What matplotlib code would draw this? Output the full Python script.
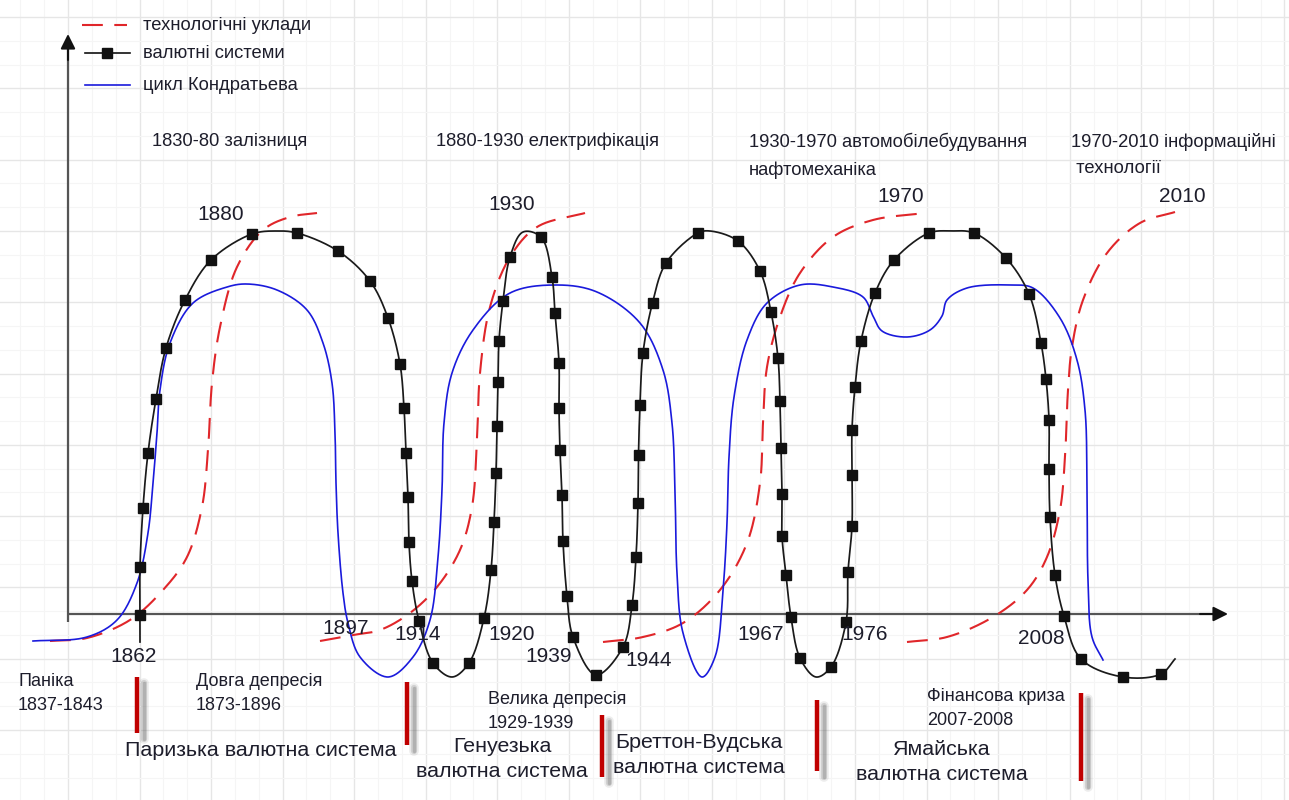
import numpy as np
import matplotlib
matplotlib.use("Agg")
import matplotlib.pyplot as plt

plt.rcParams['font.family'] = ['Liberation Sans', 'DejaVu Sans']

# ---------------- data (diagram coordinates) ----------------
# currency systems curve: knots and square markers
currency_knots = [(140, 642), (140, 615), (140, 567), (143, 508), (148, 453), (156, 399), (166, 348),
                  (185, 300), (211, 260), (252, 234), (277, 231), (297, 233), (338, 251), (370, 281),
                  (388, 318), (400, 364), (404, 408), (406, 453), (408, 497), (409, 542), (412, 581),
                  (419, 621), (433, 663), (452, 677), (469, 663), (484, 618), (491, 570), (494, 522),
                  (496, 473), (497, 426), (498, 382), (499, 341), (503, 301), (510, 257), (523, 232),
                  (541, 237), (552, 277), (555, 313), (559, 363), (559, 408), (560, 450), (562, 495),
                  (563, 541), (567, 596), (573, 637), (596, 675), (623, 647), (632, 605), (636, 557),
                  (638, 503), (638.5, 455), (640, 405), (643, 353), (652.5, 303), (666, 263), (698, 233),
                  (710, 231), (738, 241), (760, 271), (771, 312), (778, 358), (780, 401), (781, 448),
                  (782, 494), (782, 536), (786, 575), (791, 617), (800, 658), (816, 677), (831, 667),
                  (846, 622), (848, 572), (852, 526), (852, 475), (852, 430), (855, 387), (861, 341),
                  (875, 293), (894, 260), (929, 233), (951, 231), (974, 233), (1006, 258), (1029, 294),
                  (1041, 343), (1046, 379), (1049, 420), (1049, 469), (1050, 517), (1055, 575),
                  (1064, 616), (1081, 659), (1123, 677), (1161, 674), (1175, 659)]
currency_unmarked = [(140, 642), (277, 231), (452, 677), (523, 232), (710, 231), (816, 677),
                     (951, 231), (1175, 659)]

# Kondratiev cycle curve
kondratiev_knots = [(33, 641), (87, 637), (117, 620), (137, 583), (148, 533), (153, 483), (157, 433),
                    (160, 390), (170, 343), (193, 303), (227, 287), (247, 284), (277, 290), (307, 310),
                    (323, 343), (332, 383), (335, 433), (336, 483), (338, 533), (343, 593), (348, 623),
                    (360, 657), (388, 677), (413, 657), (430, 620), (438, 557), (442, 490), (444, 423),
                    (452, 373), (473, 330), (510, 293), (557, 285), (597, 292), (640, 323), (663, 370),
                    (672, 423), (675, 490), (677, 573), (683, 633), (702, 677), (715, 657), (723, 590),
                    (727, 523), (729, 457), (734, 397), (747, 340), (767, 303), (800, 285), (833, 287),
                    (863, 297), (873, 316), (882, 331), (907, 337), (930, 330), (942, 316), (947, 300),
                    (967, 288), (1010, 285), (1033, 288), (1060, 318), (1077, 360), (1085, 410),
                    (1087, 480), (1088, 580), (1092, 637), (1103, 660)]

# technological modes (4 dashed S-curves)
tech_modes = [
    [(50, 641), (87, 638), (130, 620), (163, 590), (187, 557), (202, 507), (208, 450), (212, 383),
     (220, 327), (237, 267), (263, 230), (290, 217), (317, 213)],
    [(320, 641), (353, 635), (380, 630), (410, 613), (437, 587), (460, 550), (472, 507), (477, 440),
     (480, 373), (490, 307), (510, 257), (537, 227), (585, 213)],
    [(603, 642), (643, 637), (683, 623), (720, 590), (747, 543), (760, 483), (763, 423), (767, 367),
     (780, 317), (800, 273), (833, 237), (873, 220), (925, 213)],
    [(907, 642), (947, 637), (993, 617), (1027, 590), (1047, 557), (1060, 510), (1065, 457),
     (1068, 390), (1072, 347), (1083, 300), (1107, 253), (1140, 223), (1175, 212)],
]

year_labels = ["1862", "1880", "1897", "1914", "1920", "1930", "1939", "1944", "1967", "1970",
               "1976", "2008", "2010"]
year_pos = [(134, 657), (221, 215), (346, 628), (418, 634), (512, 634), (512, 205), (549, 656),
            (649, 661), (761, 634), (901, 197), (865, 634), (1041, 639), (1182, 197)]

mode_titles = ["1830-80 залізниця", "1880-1930 електрифікація",
               "1930-1970 автомобілебудування\nнафтомеханіка", "1970-2010 інформаційні\n технології"]
mode_title_pos = [(152, 141), (436, 141), (749, 141), (1071, 141)]

crisis_labels = ["Паніка\n1837-1843", "Довга депресія\n1873-1896", "Велика депресія\n1929-1939",
                 "Фінансова криза\n2007-2008"]
crisis_pos = [(18, 681), (196, 681), (488, 699), (927, 696)]

system_labels = ["Паризька валютна система", "Генуезька\nвалютна система",
                 "Бреттон-Вудська\nвалютна система", "Ямайська\nвалютна система"]
system_pos = [(261, 750), (502, 759), (699, 755), (942, 762)]

crisis_bars = [(137, 677, 733), (407, 682, 745), (602, 715, 777), (817, 700, 771), (1081, 693, 781)]

legend_labels = ["технологічні уклади", "валютні системи", "цикл Кондратьева"]


# ---------------- helpers ----------------
def catmull_rom(points, n=24):
    P = np.asarray(points, float)
    P = np.vstack([2 * P[0] - P[1], P, 2 * P[-1] - P[-2]])
    out = []
    for i in range(1, len(P) - 2):
        p0, p1, p2, p3 = P[i - 1], P[i], P[i + 1], P[i + 2]
        t0 = 0.0
        t1 = t0 + max(np.linalg.norm(p1 - p0), 1e-6) ** 0.5
        t2 = t1 + max(np.linalg.norm(p2 - p1), 1e-6) ** 0.5
        t3 = t2 + max(np.linalg.norm(p3 - p2), 1e-6) ** 0.5
        t = np.linspace(t1, t2, n)[:, None]
        A1 = (t1 - t) / (t1 - t0) * p0 + (t - t0) / (t1 - t0) * p1
        A2 = (t2 - t) / (t2 - t1) * p1 + (t - t1) / (t2 - t1) * p2
        A3 = (t3 - t) / (t3 - t2) * p2 + (t - t2) / (t3 - t2) * p3
        B1 = (t2 - t) / (t2 - t0) * A1 + (t - t0) / (t2 - t0) * A2
        B2 = (t3 - t) / (t3 - t1) * A2 + (t - t1) / (t3 - t1) * A3
        C = (t2 - t) / (t2 - t1) * B1 + (t - t1) / (t2 - t1) * B2
        out.append(C if i == 1 else C[1:])
    return np.vstack(out)


# ---------------- figure ----------------
fig = plt.figure(figsize=(12.89, 8.0), dpi=100)
ax = fig.add_axes([0, 0, 1, 1])
for s in ax.spines.values():
    s.set_visible(False)
ax.tick_params(which='both', length=0, labelbottom=False, labelleft=False)
gx = 71.55
gy = 71.3
ax.set_xticks(np.arange(68 - gx, 1300, gx))
ax.set_yticks(np.arange(17, 810, gy))
ax.set_xticks(np.arange(68 - gx, 1300, gx / 3), minor=True)
ax.set_yticks(np.arange(17 - gy, 810, gy / 3), minor=True)
ax.set_xlim(0, 1289)
ax.set_ylim(800, 0)
ax.grid(True, which='major', color='#e6e6e6', lw=1.0, zorder=0)
ax.grid(True, which='minor', color='#f5f5f5', lw=0.8, zorder=0)
ax.set_axisbelow(True)

# coordinate axes
ax.plot([68, 68], [622, 45], color='#555555', lw=1.6, zorder=2, solid_capstyle='butt')
ax.plot([68, 1215], [614, 614], color='#555555', lw=1.6, zorder=2, solid_capstyle='butt')
ax.annotate('', xy=(68, 34), xytext=(68, 60),
            arrowprops=dict(arrowstyle='-|>', color='#111111', lw=1.5, mutation_scale=22,
                            shrinkA=0, shrinkB=0), zorder=3)
ax.annotate('', xy=(1228, 614), xytext=(1200, 614),
            arrowprops=dict(arrowstyle='-|>', color='#111111', lw=1.5, mutation_scale=22,
                            shrinkA=0, shrinkB=0), zorder=3)

# technological modes
for curve in tech_modes:
    c = catmull_rom(curve)
    ax.plot(c[:, 0], c[:, 1], color='#e0262a', lw=1.5, dashes=(10, 5.5), zorder=4)

# Kondratiev
c = catmull_rom(kondratiev_knots)
ax.plot(c[:, 0], c[:, 1], color='#1a1adc', lw=1.2, zorder=5)

# currency systems
c = catmull_rom(currency_knots)
ax.plot(c[:, 0], c[:, 1], color='#1a1a1a', lw=1.25, zorder=6)
marked = [p for p in currency_knots if p not in currency_unmarked]
mx, my = zip(*marked)
ax.plot(mx, my, ls='none', marker='s', ms=7.2, color='#111111', zorder=7)

# crisis bars with shadow
for x, y0, y1 in crisis_bars:
    for off, w, a in [(7, 7, 0.10), (7, 4.5, 0.18), (7, 2.5, 0.25)]:
        ax.plot([x + off, x + off], [y0 + 6, y1 + 6], color='#555555', lw=w, alpha=a,
                solid_capstyle='round', zorder=3)
    ax.plot([x, x], [y0, y1], color='#c00000', lw=3.2, solid_capstyle='butt', zorder=4)

txt = '#1d1d2b'
for lab, (x, y) in zip(year_labels, year_pos):
    ax.text(x, y, lab, fontsize=15, color=txt, ha='center', va='center', zorder=8)

for lab, (x, y) in zip(mode_titles, mode_title_pos):
    ax.text(x, y - 8, lab, fontsize=13.2, color=txt, ha='left', va='top', linespacing=1.72, zorder=8)

for lab, (x, y) in zip(crisis_labels, crisis_pos):
    ax.text(x, y - 8, lab, fontsize=13, color=txt, ha='left', va='top', linespacing=1.55, zorder=8)

for lab, (x, y) in zip(system_labels, system_pos):
    ax.text(x, y, lab, fontsize=15.4, color=txt, ha='center', va='center', linespacing=1.42, zorder=8)

# legend
ly = [25, 53, 85]
ax.plot([82, 127], [ly[0], ly[0]], color='#e0262a', lw=1.5, dashes=(10, 5.5))
ax.plot([85, 130], [ly[1], ly[1]], color='#111111', lw=1.2)
ax.plot([107], [ly[1]], marker='s', ms=7.2, color='#111111')
ax.plot([85, 130], [ly[2], ly[2]], color='#1a1adc', lw=1.2)
for lab, y in zip(legend_labels, ly):
    ax.text(143, y, lab, fontsize=13.2, color=txt, ha='left', va='center')

fig.savefig('out.png', dpi=100, facecolor='white')
